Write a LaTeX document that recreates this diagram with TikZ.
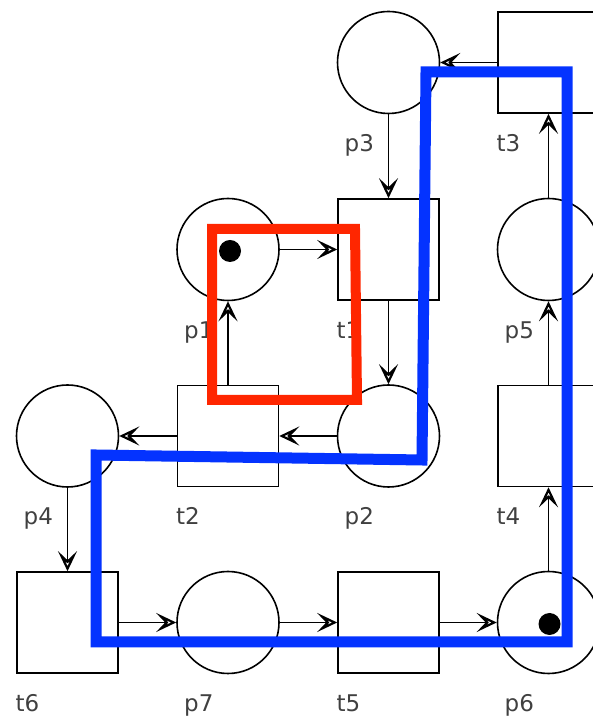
\documentclass[tikz,border=0pt]{standalone}
\usepackage{fontspec}
\setmainfont{DejaVu Sans}
\usepackage{tikz}
\usetikzlibrary{arrows.meta}
\definecolor{netblue}{RGB}{4, 51, 255}
\definecolor{netred}{RGB}{255, 38, 0}

\tikzset{
	place/.style={circle,draw,line width=1.6pt,minimum size=102pt,inner sep=0pt},
	transition/.style={rectangle,draw,line width=1.6pt,minimum size=101pt,inner sep=0pt},
	lbl/.style={anchor=base west,inner sep=0pt,text=black!75,font=\fontsize{23}{28}\selectfont},
	arc/.style={line width=1.8pt,-{Stealth[open,length=20pt,width=19pt,inset=9pt,line width=2.2pt]}},
	token/.style={fill=black}
}

\begin{document}
\begin{tikzpicture}[x=1pt,y=1pt]
	\useasboundingbox (0,0) rectangle (592,719);
	% places
	\node (p1) at (228,469.5) [place] {};
	\node (p2) at (388.5,283) [place] {};
	\node (p3) at (388.5,656.5) [place] {};
	\node (p4) at (67.5,283) [place] {};
	\node (p5) at (548.5,469.5) [place] {};
	\node (p6) at (548.5,96.5) [place] {};
	\node (p7) at (228,96.5) [place] {};
	% transitions
	\node (t1) at (388.5,469.5) [transition] {};
	\node (t2) at (228,283) [transition] {};
	\node (t3) at (548.5,656.5) [transition] {};
	\node (t4) at (548.5,283) [transition] {};
	\node (t5) at (388.5,96.5) [transition] {};
	\node (t6) at (67.5,96.5) [transition] {};
	% tokens
	\fill[token] ([xshift=2pt,yshift=-1.5pt]p1.center) circle (11pt);
	\fill[token] ([xshift=1pt,yshift=-1.5pt]p6.center) circle (11pt);
	% labels
	\node (lp1) at (184,380.5) [lbl] {p1};
	\node (lp2) at (344.5,194) [lbl] {p2};
	\node (lp3) at (344.5,567.5) [lbl] {p3};
	\node (lp4) at (23.5,194) [lbl] {p4};
	\node (lp5) at (504.5,380.5) [lbl] {p5};
	\node (lp6) at (504.5,7.5) [lbl] {p6};
	\node (lp7) at (184,7.5) [lbl] {p7};
	\node (lt1) at (336.5,380.5) [lbl] {t1};
	\node (lt2) at (176,194) [lbl] {t2};
	\node (lt3) at (496.5,567.5) [lbl] {t3};
	\node (lt4) at (496.5,194) [lbl] {t4};
	\node (lt5) at (336.5,7.5) [lbl] {t5};
	\node (lt6) at (15.5,7.5) [lbl] {t6};
	% arcs
	\path[draw,arc] (t3) -- (p3);
	\path[draw,arc] (p3) -- (t1);
	\path[draw,arc] (p1) -- (t1);
	\path[draw,arc] (t1) -- (p2);
	\path[draw,arc] (p2) -- (t2);
	\path[draw,arc] (t2) -- (p1);
	\path[draw,arc] (t2) -- (p4);
	\path[draw,arc] (p4) -- (t6);
	\path[draw,arc] (t6) -- (p7);
	\path[draw,arc] (p7) -- (t5);
	\path[draw,arc] (t5) -- (p6);
	\path[draw,arc] (p6) -- (t4);
	\path[draw,arc] (t4) -- (p5);
	\path[draw,arc] (p5) -- (t3);
	% highlighted regions
	\draw[netred,line width=10pt] (212,490) -- (355,490) -- (357,319) -- (212,319) -- cycle;
	\draw[netblue,line width=11pt] (426,647) -- (567,647) -- (567,77) -- (96,77) -- (96,264) -- (422,259) -- cycle;
\end{tikzpicture}
\end{document}
